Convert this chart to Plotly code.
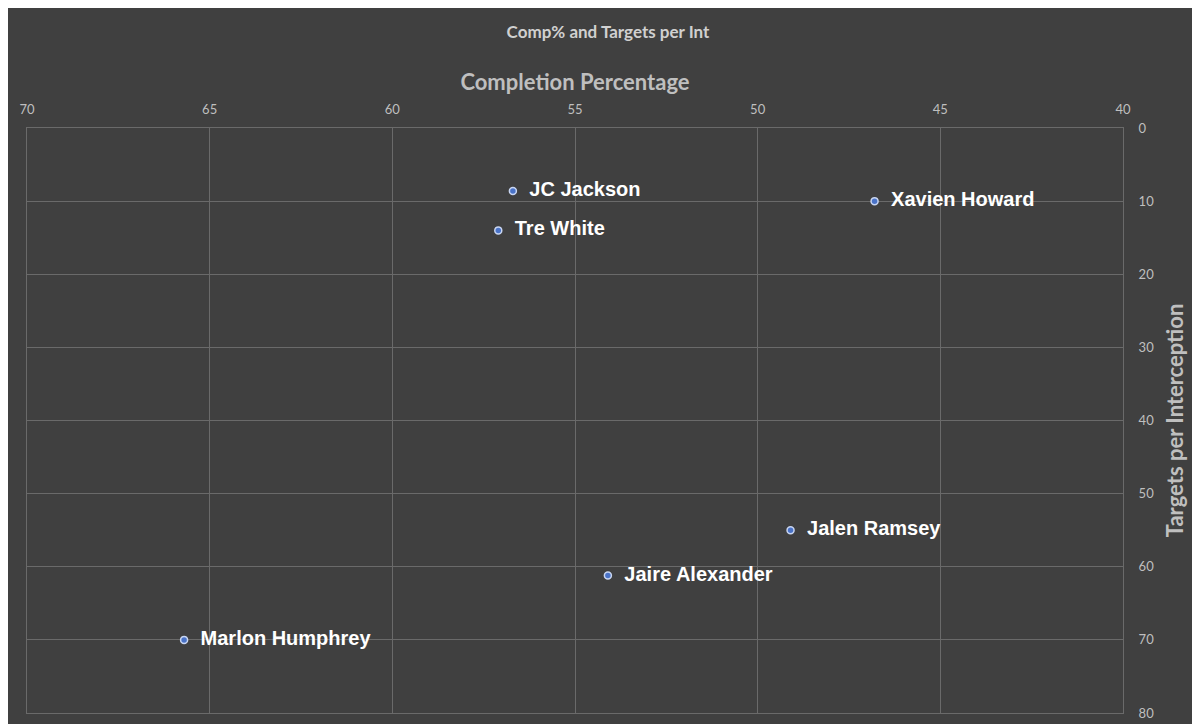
import plotly.graph_objects as go

players = ["JC Jackson", "Xavien Howard", "Tre White", "Jalen Ramsey", "Jaire Alexander", "Marlon Humphrey"]
comp_pct = [56.7, 46.8, 57.1, 49.1, 54.1, 65.7]
targets_per_int = [8.6, 10.0, 14.0, 55.0, 61.2, 70.0]

fig = go.Figure()
fig.add_trace(go.Scatter(
    x=comp_pct, y=targets_per_int, mode="markers+text",
    text=["  " + p for p in players], textposition="middle right",
    textfont=dict(family="Liberation Sans", size=20, color="white", weight="bold"),
    marker=dict(size=7, color="#4a73c8", line=dict(color="#c9d6f2", width=1.5)),
    showlegend=False, cliponaxis=False,
))

fig.update_layout(
    width=1200, height=724,
    paper_bgcolor="#404040", plot_bgcolor="#404040",
    margin=dict(l=19, r=85, t=120, b=11),
    title=dict(text="<b>Comp% and Targets per Int</b>", x=0.5, xanchor="center", y=0.975,
               font=dict(family="Lato", size=17, color="#d0d0d0")),
    xaxis=dict(range=[70, 40], side="top", dtick=5, showgrid=True, gridcolor="#6a6a6a",
               zeroline=False, showline=True, linecolor="#6a6a6a", mirror=True,
               tickfont=dict(family="Lato", size=13, color="#bfbfbf"), ticks="",
               ticklabelstandoff=8,
               title=dict(text="<b>Completion Percentage</b>", standoff=4,
                          font=dict(family="Lato", size=22, color="#bfbfbf"))),
    yaxis=dict(range=[80, 0], side="right", dtick=10, showgrid=True, gridcolor="#6a6a6a",
               zeroline=False, showline=True, linecolor="#6a6a6a", mirror=True,
               tickfont=dict(family="Lato", size=13, color="#bfbfbf"), ticks="",
               ticklabelstandoff=12,
               title=dict(text="<b>Targets per Interception</b>", standoff=14,
                          font=dict(family="Lato", size=22, color="#bfbfbf"))),
)

fig.write_html("out.html")
